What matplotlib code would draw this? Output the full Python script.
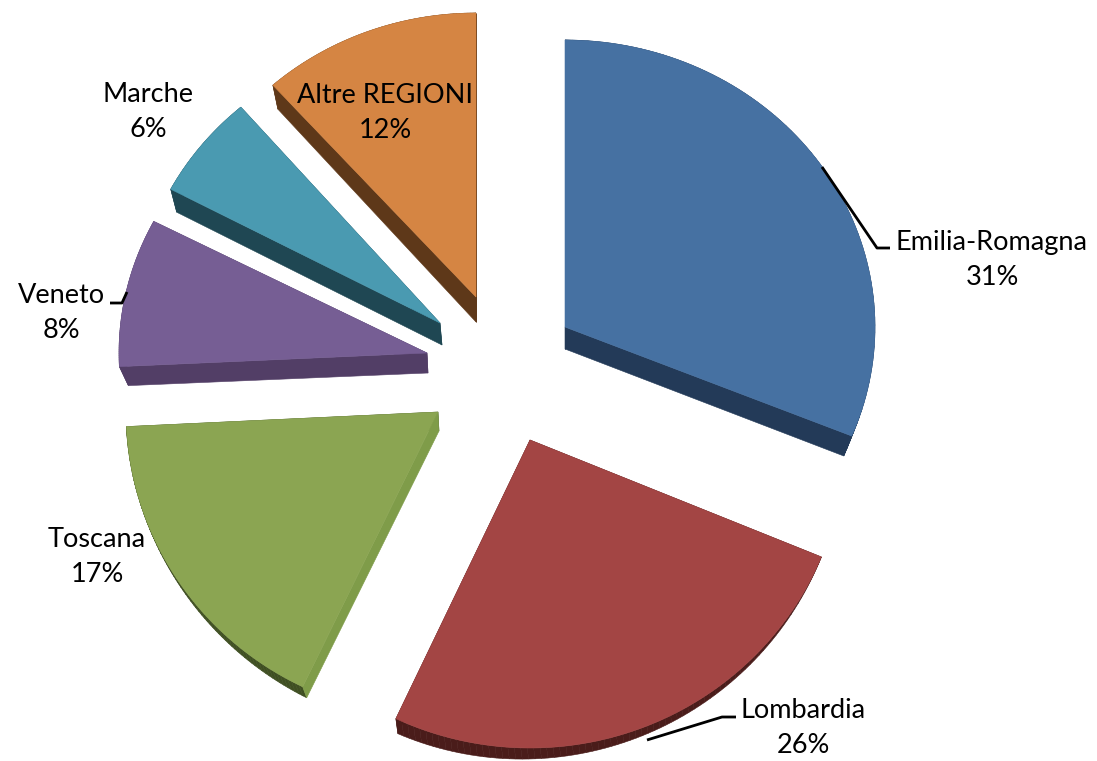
# Exploded pseudo-3D pie of the regional shares. The axes are in pixel units.
import matplotlib

matplotlib.use("Agg")
import matplotlib.pyplot as plt
import numpy as np
from matplotlib.patches import Polygon

regions = ["Emilia-Romagna", "Lombardia", "Toscana", "Veneto", "Marche", "Altre REGIONI"]
# the labels show them rounded
shares = [31.2, 25.8, 17.1, 8.4, 5.9, 11.6]

top_colors = ["#4671A2", "#A34544", "#8BA552", "#765E94", "#4A9AB1", "#D58543"]
side_colors = ["#233A58", "#4A1C1A", "#3F4F22", "#523E66", "#1F4753", "#5E3819"]

# layout of each exploded slice
apexes = [(565, 327), (530, 440), (438, 412), (427, 353), (440, 323), (476, 297)]
radii = [(310, 287), (315, 308), (312, 305), (308, 285), (305, 285), (305, 284)]
rotations = [0, 0, 0.5, 0.5, 1, 0]
# extrusion vectors at apex, at the first and at the last arc end
depth_apex = [(0, 22), (0, 8), (1, 19), (1, 20), (2, 22), (0, 25)]
depth_start = [(0, 0), (0, 0), (4, 11), (9, 19), (6, 23), (5, 24)]
depth_end = [(-8, 20), (2, 15), (0, 0), (0, 0), (0, 0), (0, 0)]

label_pos = [(992, 260), (803, 728), (97, 557), (61, 313), (148, 112), (385, 113)]
leaders = [
    [(822, 167), (877, 248), (890, 248)],
    [(647, 740), (722, 717), (736, 717)],
    [(110, 303), (122, 303), (127, 292)],
]

fig = plt.figure(figsize=(10.97, 7.61), dpi=100)
ax = fig.add_axes([0, 0, 1, 1])
ax.set_xlim(0, 1097)
ax.set_ylim(761, 0)
ax.axis("off")

bounds = np.cumsum([0] + shares) / sum(shares) * 360

for i, region in enumerate(regions):
    theta = np.radians(np.linspace(bounds[i], bounds[i + 1], 80) + rotations[i])
    apex = np.array(apexes[i], dtype=float)
    arc = apex + np.column_stack([radii[i][0] * np.sin(theta), -radii[i][1] * np.cos(theta)])
    t = np.linspace(0, 1, len(theta))[:, None]
    arc_low = arc + (1 - t) * np.array(depth_start[i]) + t * np.array(depth_end[i])
    apex_low = apex + np.array(depth_apex[i])

    top = np.vstack([apex, arc])
    low = np.vstack([apex_low, arc_low])
    # side faces: one quad per outline edge, the first radial face goes last
    for a in list(range(1, len(top))) + [0]:
        b = (a + 1) % len(top)
        color = side_colors[i]
        if region == "Toscana" and a == 0:
            color = "#7F9C49"  # this radial face catches the light
        quad = [top[a], top[b], low[b], low[a]]
        ax.add_patch(Polygon(quad, closed=True, fc=color, ec=color, lw=0.4, zorder=2 + i * 0.01))
    ax.add_patch(Polygon(top, closed=True, fc=top_colors[i], ec=top_colors[i], lw=0.4, zorder=3))

for pts in leaders:
    xs, ys = zip(*pts)
    ax.plot(xs, ys, color="black", lw=2, zorder=4, solid_capstyle="butt")

for region, share, (x, y) in zip(regions, shares, label_pos):
    ax.text(x, y, f"{region}\n{share:.0f}%", ha="center", va="center", fontsize=19.5,
            family="Lato", color="black", linespacing=1.46, zorder=5)

fig.savefig("out.png", dpi=100)
plt.close(fig)
